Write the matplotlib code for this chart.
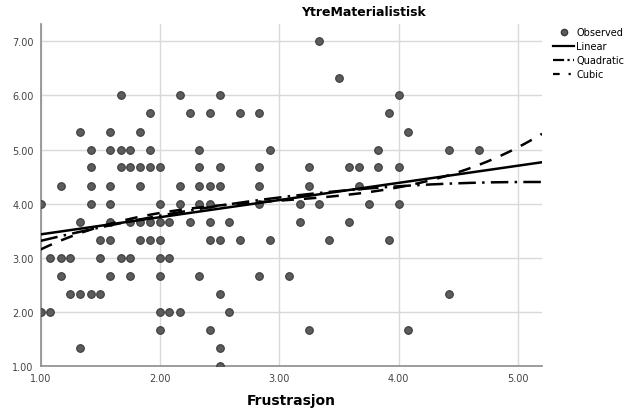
import matplotlib
matplotlib.use("Agg")
import matplotlib.pyplot as plt
import numpy as np
from matplotlib.lines import Line2D

# observed points, one row of the chart per line (y level -> x values)
frust = [
    3.33,                                                                    # 7.00
    3.50,                                                                    # 6.33
    1.67, 2.17, 2.50, 4.00,                                                  # 6.00
    1.92, 2.25, 2.42, 2.67, 2.83, 3.92,                                      # 5.67
    1.33, 1.58, 1.83, 4.08,                                                  # 5.33
    1.42, 1.58, 1.67, 1.75, 1.92, 2.33, 2.92, 3.83, 4.42, 4.67,              # 5.00
    1.42, 1.67, 1.75, 1.83, 1.92, 2.00, 2.33, 2.50, 2.83, 3.25, 3.58, 3.67, 3.83, 4.00,  # 4.67
    1.17, 1.42, 1.58, 1.83, 2.17, 2.33, 2.42, 2.50, 2.83, 3.25, 3.67,        # 4.33
    1.00, 1.42, 1.58, 2.00, 2.17, 2.33, 2.42, 2.83, 3.17, 3.33, 3.75, 4.00,  # 4.00
    1.33, 1.58, 1.75, 1.83, 1.92, 2.00, 2.08, 2.25, 2.42, 2.58, 3.17, 3.58,  # 3.67
    1.50, 1.58, 1.83, 1.92, 2.00, 2.42, 2.50, 2.67, 2.92, 3.42, 3.92,        # 3.33
    1.08, 1.17, 1.25, 1.50, 1.67, 1.75, 2.00, 2.08,                          # 3.00
    1.17, 1.58, 1.75, 2.00, 2.33, 2.83, 3.08,                                # 2.67
    1.25, 1.33, 1.42, 1.50, 2.50, 4.42,                                      # 2.33
    1.00, 1.08, 2.00, 2.08, 2.17, 2.58,                                      # 2.00
    2.00, 2.42, 3.25, 4.08,                                                  # 1.67
    1.33, 2.50,                                                              # 1.33
    2.50,                                                                    # 1.00
]
ytre_levels = [7.00, 6.33, 6.00, 5.67, 5.33, 5.00, 4.67, 4.33, 4.00,
               3.67, 3.33, 3.00, 2.67, 2.33, 2.00, 1.67, 1.33, 1.00]
ytre_counts = [1, 1, 4, 6, 4, 10, 14, 11, 12, 12, 11, 8, 7, 6, 6, 4, 2, 1]
ytre = np.repeat(ytre_levels, ytre_counts)
frust = np.array(frust)

x_ticks = [1.0, 2.0, 3.0, 4.0, 5.0]
y_ticks = [1.0, 2.0, 3.0, 4.0, 5.0, 6.0, 7.0]

plt.rcParams['font.family'] = ['DejaVu Sans']

fig = plt.figure(figsize=(6.38, 4.14), dpi=100)
ax = fig.add_axes([0.0635, 0.1135, 0.786, 0.826])

pt_face = '#5c5c5c'
pt_edge = '#3a3a3a'
ax.scatter(frust, ytre, s=30, color=pt_face, edgecolors=pt_edge,
           linewidths=0.8, zorder=3)

# curve fits
xs = np.linspace(1.0, 5.2, 200)
lin = np.polyval(np.polyfit(frust, ytre, 1), xs)
quad = np.polyval(np.polyfit(frust, ytre, 2), xs)
cub = np.polyval(np.polyfit(frust, ytre, 3), xs)

ax.plot(xs, lin, color='black', lw=1.8, zorder=4)
ax.plot(xs, quad, color='black', lw=1.8, dashes=(7, 2.5, 1, 2.5), zorder=4)
ax.plot(xs, cub, color='black', lw=1.8, dashes=(5, 4), zorder=4)

ax.set_xlim(1.0, 5.2)
ax.set_ylim(1.0, 7.32)
ax.set_xticks(x_ticks)
ax.set_yticks(y_ticks)
ax.set_xticklabels([f'{v:.2f}' for v in x_ticks])
ax.set_yticklabels([f'{v:.2f}' for v in y_ticks])
ax.tick_params(length=0, labelsize=7, colors='#444444', pad=5)
ax.grid(True, color='#d9d9d9', lw=1.0)
ax.set_axisbelow(True)
for side in ['top', 'right']:
    ax.spines[side].set_visible(False)
for side in ['left', 'bottom']:
    ax.spines[side].set_color('#8c8c8c')
    ax.spines[side].set_linewidth(1.2)

ax.set_xlabel('Frustrasjon', fontsize=10, fontweight='bold', labelpad=7)
fig.text(363 / 638, 1 - 12 / 414, 'YtreMaterialistisk', ha='center',
         va='center', fontsize=9, fontweight='bold')

handles = [
    Line2D([0], [0], ls='none', marker='o', ms=4.5, color=pt_face,
           markeredgecolor=pt_edge),
    Line2D([0], [0], color='black', lw=1.6),
    Line2D([0], [0], color='black', lw=1.6, dashes=(5, 1.5, 1, 1.5)),
    Line2D([0], [0], color='black', lw=1.6, dashes=(3, 4, 1, 2)),
]
ax.legend(handles, ['Observed', 'Linear', 'Quadratic', 'Cubic'],
          loc='upper left', bbox_to_anchor=(1.022, 0.99), frameon=False,
          fontsize=7, handlelength=2.2, handletextpad=0.2,
          labelspacing=0.4, borderaxespad=0, borderpad=0)

fig.savefig('out.png', dpi=100)
